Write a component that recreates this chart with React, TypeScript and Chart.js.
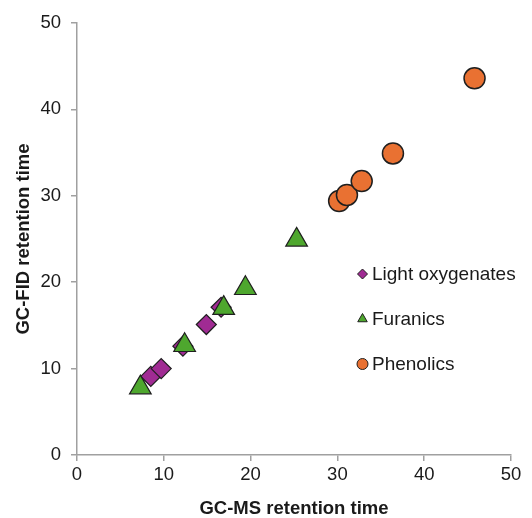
import React, { useEffect, useRef } from "react";
import { Chart, registerables } from "chart.js";

Chart.register(...registerables);

const seriesNames = ["Light oxygenates", "Furanics", "Phenolics"];
const lightX = [8.5, 9.7, 12.2, 14.9, 16.6];
const lightY = [9.1, 10.0, 12.6, 15.1, 17.1];
const furanX = [7.3, 12.4, 16.9, 19.4, 25.3];
const furanY = [7.8, 12.7, 17.0, 19.3, 24.9];
const phenX = [30.2, 31.1, 32.8, 36.4, 45.8];
const phenY = [29.4, 30.1, 31.7, 34.9, 43.6];
const axisMin = 0;
const axisMax = 50;
const axisStep = 10;
const xTitle = "GC-MS retention time";
const yTitle = "GC-FID retention time";

const PURPLE = "#A02B93";
const GREEN = "#4EA72E";
const ORANGE = "#E97132";
const EDGE = "#1f1f1f";
const AXIS = "#a0a0a0";
const FONT = "'Liberation Sans', Arial, sans-serif";

const pts = (xs: number[], ys: number[]) => xs.map((x, i) => ({ x, y: ys[i] }));

const legendPlugin = {
  id: "innerLegend",
  afterDraw(chart: any) {
    const ctx = chart.ctx;
    const styles = [
      { shape: "diamond", color: PURPLE, r: 5 },
      { shape: "triangle", color: GREEN, r: 5.5 },
      { shape: "circle", color: ORANGE, r: 5.5 },
    ];
    const mx = 362.5;
    const baseY = 274;
    const gap = 45;
    ctx.save();
    ctx.font = `19px ${FONT}`;
    ctx.textBaseline = "middle";
    seriesNames.forEach((name, i) => {
      const y = baseY + i * gap;
      const s = styles[i];
      ctx.beginPath();
      if (s.shape === "diamond") {
        ctx.moveTo(mx, y - s.r);
        ctx.lineTo(mx + s.r, y);
        ctx.lineTo(mx, y + s.r);
        ctx.lineTo(mx - s.r, y);
        ctx.closePath();
      } else if (s.shape === "triangle") {
        ctx.moveTo(mx, y - s.r);
        ctx.lineTo(mx + s.r * 0.866, y + s.r / 2);
        ctx.lineTo(mx - s.r * 0.866, y + s.r / 2);
        ctx.closePath();
      } else {
        ctx.arc(mx, y, s.r, 0, Math.PI * 2);
      }
      ctx.fillStyle = s.color;
      ctx.fill();
      ctx.lineWidth = 1;
      ctx.strokeStyle = EDGE;
      ctx.stroke();
      ctx.fillStyle = "#1a1a1a";
      ctx.fillText(name, 372, y + 1);
    });
    ctx.restore();
  },
};

export default function App() {
  const ref = useRef<HTMLCanvasElement | null>(null);
  useEffect(() => {
    if (!ref.current) return;
    const tickFont = { family: FONT, size: 18.5 };
    const titleFont = { family: FONT, size: 18.5, weight: "bold" as const };
    const chart = new Chart(ref.current, {
      type: "scatter",
      data: {
        datasets: [
          {
            label: seriesNames[0],
            data: pts(lightX, lightY),
            pointStyle: "rectRot",
            pointRadius: 10,
            backgroundColor: PURPLE,
            borderColor: EDGE,
            borderWidth: 1.2,
            order: 2,
          },
          {
            label: seriesNames[1],
            data: pts(furanX, furanY),
            pointStyle: "triangle",
            pointRadius: 12.5,
            backgroundColor: GREEN,
            borderColor: EDGE,
            borderWidth: 1.2,
            order: 1,
          },
          {
            label: seriesNames[2],
            data: pts(phenX, phenY),
            pointStyle: "circle",
            pointRadius: 10.5,
            backgroundColor: ORANGE,
            borderColor: EDGE,
            borderWidth: 1.5,
            order: 0,
          },
        ],
      },
      options: {
        responsive: false,
        animation: false,
        layout: { padding: { top: 23, right: 21, left: 0, bottom: 0 } },
        plugins: { legend: { display: false }, tooltip: { enabled: false } },
        scales: {
          x: {
            type: "linear",
            min: axisMin,
            max: axisMax,
            ticks: { stepSize: axisStep, font: tickFont, color: "#1a1a1a", padding: 3, maxRotation: 0 },
            grid: { drawOnChartArea: false, drawTicks: true, tickLength: 6, color: AXIS, lineWidth: 1.5 },
            border: { display: true, color: AXIS, width: 1.5 },
            title: { display: true, text: xTitle, font: titleFont, color: "#1a1a1a", padding: { top: 0, bottom: -2 } },
            afterFit: (s: any) => {
              s.height = 63;
            },
          },
          y: {
            type: "linear",
            min: axisMin,
            max: axisMax,
            ticks: { stepSize: axisStep, font: tickFont, color: "#1a1a1a", padding: 10 },
            grid: { drawOnChartArea: false, drawTicks: true, tickLength: 6, color: AXIS, lineWidth: 1.5 },
            border: { display: true, color: AXIS, width: 1.5 },
            title: { display: true, text: yTitle, font: titleFont, color: "#1a1a1a", padding: { top: 13, bottom: 0 } },
            afterFit: (s: any) => {
              s.width = 77;
            },
          },
        },
      },
      plugins: [legendPlugin],
    });
    return () => chart.destroy();
  }, []);
  return (
    <div style={{ position: "absolute", left: 0, top: 0, width: 532, height: 518, background: "#fff" }}>
      <canvas ref={ref} width={532} height={518} />
    </div>
  );
}
